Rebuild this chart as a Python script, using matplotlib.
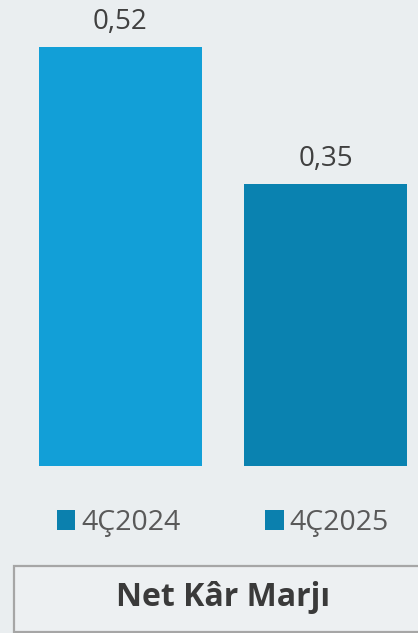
import matplotlib
matplotlib.use("Agg")
import matplotlib.pyplot as plt
from matplotlib.patches import Patch, Rectangle

plt.rcParams['font.family'] = ['Open Sans', 'DejaVu Sans']

# data
periods = ['4Ç2024', '4Ç2025']
values = [0.52, 0.35]
value_labels = ['0,52', '0,35']
title = 'Net Kâr Marjı'

bar_colors = ['#129fd7', '#0a82b0']
legend_color = '#0b80ae'
bg = '#eaeef0'

W, H = 418, 633
fig = plt.figure(figsize=(W / 100, H / 100), dpi=100, facecolor=bg)

# bar area: bottom of bars at y=466px
ax = fig.add_axes([0, (H - 466) / H, 1, 466 / H])
ax.set_facecolor(bg)
x = list(range(len(periods)))
ax.bar(x, values, width=163 / 205, color=bar_colors)
ax.set_xlim(-120.5 / 205, (W - 120.5) / 205)
ax.set_ylim(0, 466 / 805.8)
ax.axis('off')

for xi, v, lab in zip(x, values, value_labels):
    ax.annotate(lab, (xi, v), xytext=(0, 13), textcoords='offset points',
                ha='center', va='baseline', fontsize=20, color='#404040')

# legend
handles = [Patch(facecolor=legend_color, edgecolor='none', label=p) for p in periods]
fig.legend(handles=handles, loc='center', bbox_to_anchor=(223 / W, 1 - 523 / H),
           ncol=2, frameon=False, fontsize=20.5, labelcolor='#595959',
           handlelength=0.65, handleheight=0.65, handletextpad=0.22,
           columnspacing=2.95, borderpad=0, borderaxespad=0)

# title box
fig.patches.append(Rectangle((14 / W, 1 - 632 / H), (W + 10) / W, 66 / H,
                             transform=fig.transFigure, facecolor='#edf0f2',
                             edgecolor='#a6a6a6', linewidth=1.6))
fig.text(223 / W, 1 - 598 / H, title, ha='center', va='center',
         fontsize=23, fontweight='bold', color='#3a3a3a')

fig.savefig('out.png', dpi=100, facecolor=bg)
